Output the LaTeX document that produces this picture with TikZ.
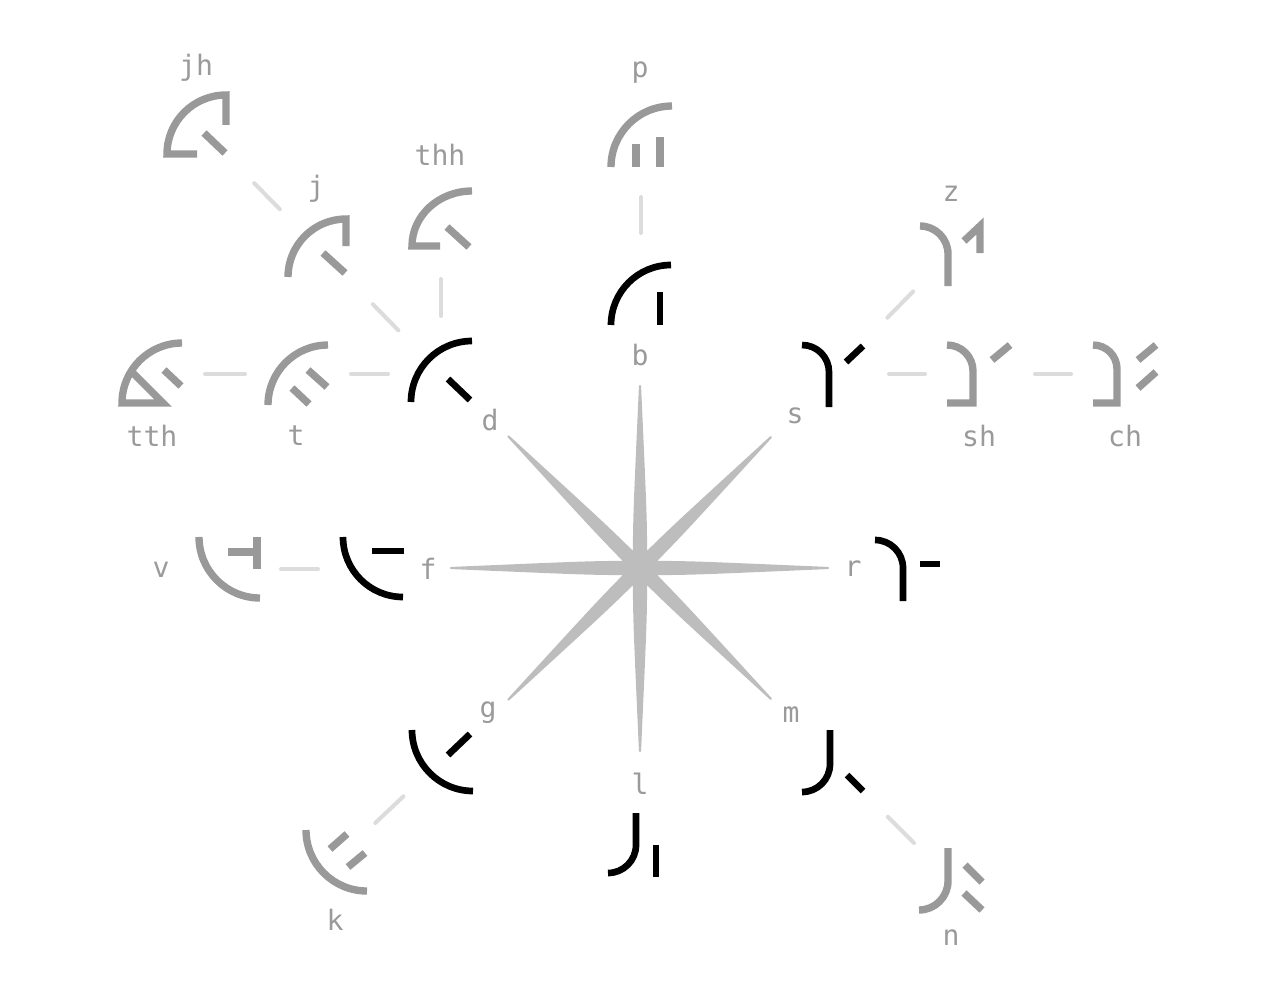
\documentclass[tikz,border=0pt]{standalone}
\usepackage{fontspec}
\setmonofont{DejaVu Sans Mono}

\definecolor{sidegray}{HTML}{999999}
\definecolor{labelgray}{HTML}{9A9A9A}
\definecolor{linkgray}{HTML}{DCDCDC}
\definecolor{stargray}{HTML}{BDBDBD}

\begin{document}
\begin{tikzpicture}[x=0.02cm, y=-0.02cm,
  main/.style={draw=black, line width=3.8pt},
  side/.style={draw=sidegray, line width=4.2pt},
  lab/.style={text=labelgray, font=\ttfamily\fontsize{16}{18}\selectfont, inner sep=0pt},
  link/.style 2 args={draw=linkgray, line width=2.3pt, line cap=round,
    shorten <=#1*0.569pt, shorten >=#2*0.569pt}]

\useasboundingbox (0,0) rectangle (1280,1000);

% centres of the glyphs
\coordinate (b) at (641,295);
\coordinate (p) at (641,136);
\coordinate (d) at (441,374);
\coordinate (thh) at (441,219);
\coordinate (j) at (317,247);
\coordinate (jh) at (196,124);
\coordinate (t) at (298,374);
\coordinate (tth) at (152,374);
\coordinate (s) at (832,374);
\coordinate (z) at (951,253);
\coordinate (sh) at (978,374);
\coordinate (ch) at (1124,374);
\coordinate (r) at (905,570);
\coordinate (f) at (373,569);
\coordinate (v) at (229,569);
\coordinate (g) at (442,760);
\coordinate (k) at (336,860);
\coordinate (l) at (632,845);
\coordinate (m) at (832,761);
\coordinate (n) at (950,879);

% star in the middle
\filldraw[shift={(640,568)}, fill=stargray, draw=stargray, line width=1.2pt, line join=round]
  (-22.5:16) \foreach \a/\r in {0/188,45/185,90/183,135/186,180/189,225/186,270/182,315/185}
  { .. controls (\a-6:55) .. (\a:\r) .. controls (\a+6:55) .. (\a+22.5:16) } -- cycle;

% links between glyphs
\draw[link={83}{53}] (jh) -- (j);
\draw[link={80}{61}] (j) -- (d);
\draw[link={60}{58}] (thh) -- (d);
\draw[link={53}{53}] (tth) -- (t);
\draw[link={53}{53}] (t) -- (d);
\draw[link={61}{62}] (p) -- (b);
\draw[link={79}{54}] (s) -- (z);
\draw[link={57}{53}] (s) -- (sh);
\draw[link={57}{53}] (sh) -- (ch);
\draw[link={55}{52}] (f) -- (v);
\draw[link={53}{54}] (g) -- (k);
\draw[link={79}{51}] (m) -- (n);

% b and p
\draw[main] (611,325) arc[start angle=180, end angle=270, radius=60];
\draw[main] (660,292) -- (660,325);
\draw[side] (611,167) arc[start angle=180, end angle=270, radius=61];
\draw[side] (636,144) -- (636,167);
\draw[side] (660,137) -- (660,167);

% d, thh, j, jh
\draw[main] (411,402) arc[start angle=180, end angle=270, radius=61];
\draw[main] (448,379) -- (470,400);
\draw[side] (440,246) -- (412,246) arc[start angle=180, end angle=270, x radius=60, y radius=55];
\draw[side] (447,227) -- (469,247);
\draw[side] (288,277) arc[start angle=180, end angle=270, radius=58] -- (346,246);
\draw[side] (323,253) -- (345,273);
\draw[side] (197,154) -- (167,154) arc[start angle=180, end angle=270, radius=59] -- (226,125);
\draw[side] (204,133) -- (225,153);

% t and tth
\draw[side] (268,405) arc[start angle=180, end angle=270, radius=60];
\draw[side] (308,370) -- (327,387);
\draw[side] (292,388) -- (309,404);
\draw[side] (131,371) -- (163,403) -- (122,403) arc[start angle=180, end angle=270, radius=60];
\draw[side] (164,370) -- (181,386);

% s, z, sh, ch
\draw[main] (802,345) arc[start angle=270, end angle=360, radius=27] -- (829,407);
\draw[main] (846,362) -- (863,346);
\draw[side] (920,226) arc[start angle=270, end angle=360, radius=28] -- (948,286);
\draw[side] (964,241) -- (980,226) -- (980,253);
\draw[side] (947,345) arc[start angle=270, end angle=360, radius=26] -- (973,403) -- (947,403);
\draw[side] (992,360) -- (1010,345);
\draw[side] (1093,345) arc[start angle=270, end angle=360, radius=24] -- (1117,403) -- (1093,403);
\draw[side] (1138,360) -- (1156,345);
\draw[side] (1138,388) -- (1156,372);

% r
\draw[main] (875,540) arc[start angle=270, end angle=360, radius=28] -- (903,601);
\draw[main] (920,564) -- (940,564);

% f and v
\draw[main] (343,537) arc[start angle=180, end angle=90, radius=60];
\draw[main] (372,551) -- (404,551);
\draw[side] (199,537) arc[start angle=180, end angle=90, radius=61];
\draw[side] (228,552) -- (260,552);
\draw[side] (257,537) -- (257,569);

% g and k
\draw[main] (412,730) arc[start angle=180, end angle=90, radius=61];
\draw[main] (448,755) -- (470,734);
\draw[side] (306,830) arc[start angle=180, end angle=90, radius=61];
\draw[side] (330,849) -- (347,834);
\draw[side] (348,867) -- (365,853);

% l, m, n
\draw[main] (636,813) -- (636,845) arc[start angle=0, end angle=90, radius=28];
\draw[main] (656,845) -- (656,877);
\draw[main] (830,730) -- (830,764) arc[start angle=0, end angle=90, radius=28];
\draw[main] (847,775) -- (863,791);
\draw[side] (948,848) -- (948,881) arc[start angle=0, end angle=90, radius=29];
\draw[side] (965,865) -- (982,882);
\draw[side] (964,893) -- (982,910);

% labels
\node[lab] (lab-jh) at (196,68) {jh};
\node[lab] (lab-j) at (316,189) {j};
\node[lab] (lab-thh) at (440,155) {thh};
\node[lab] (lab-p) at (640,73) {p};
\node[lab] (lab-z) at (951,194) {z};
\node[lab] (lab-tth) at (152,436) {tth};
\node[lab] (lab-t) at (296,436) {t};
\node[lab] (lab-d) at (490,420) {d};
\node[lab] (lab-b) at (640,355) {b};
\node[lab] (lab-s) at (795,416) {s};
\node[lab] (lab-sh) at (979,436) {sh};
\node[lab] (lab-ch) at (1125,436) {ch};
\node[lab] (lab-v) at (161,570) {v};
\node[lab] (lab-f) at (428,569) {f};
\node[lab] (lab-r) at (853,569) {r};
\node[lab] (lab-g) at (488,713) {g};
\node[lab] (lab-m) at (791,715) {m};
\node[lab] (lab-l) at (640,784) {l};
\node[lab] (lab-k) at (335,920) {k};
\node[lab] (lab-n) at (951,938) {n};

\end{tikzpicture}
\end{document}
